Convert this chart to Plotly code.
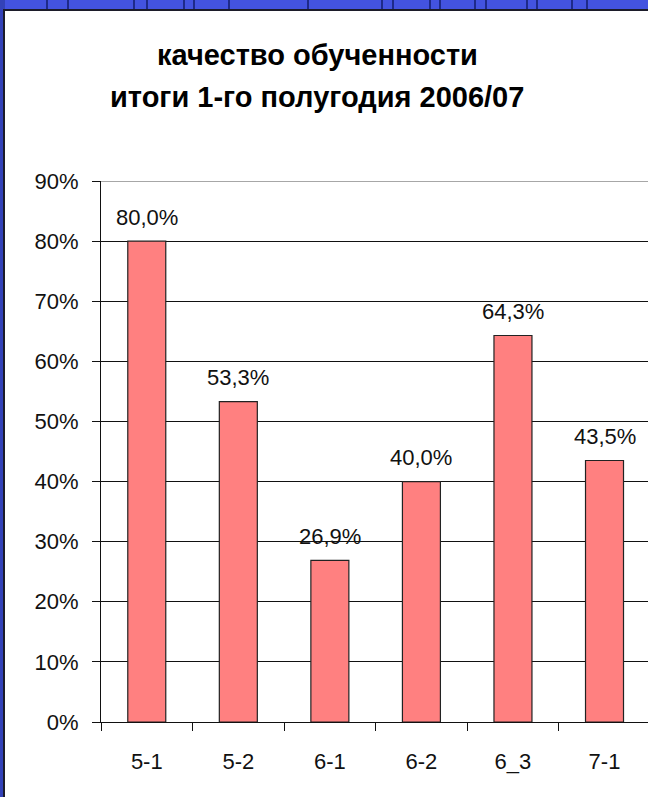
import plotly.graph_objects as go

categories = ["5-1", "5-2", "6-1", "6-2", "6_3", "7-1"]
values = [0.800, 0.533, 0.269, 0.400, 0.643, 0.435]
labels = ["80,0%", "53,3%", "26,9%", "40,0%", "64,3%", "43,5%"]
title_lines = ["качество обученности", "итоги 1-го полугодия 2006/07"]

W, H = 648, 797
L, R, T, B = 101, 0, 181, 75
pw, ph = W - L - R, H - T - B

def px_x(x):
    return (x - L) / pw

def px_y(y):
    return (H - B - y) / ph

font = "Liberation Sans, Arial, sans-serif"

fig = go.Figure()
fig.add_trace(go.Bar(
    x=categories, y=values,
    marker=dict(color="#FF8080", line=dict(color="#222222", width=1.2)),
    width=0.415,
    hoverinfo="skip",
))

for c, v, t in zip(categories, values, labels):
    fig.add_annotation(x=c, y=v, text=t, showarrow=False, yshift=24,
                       yanchor="middle", xanchor="center",
                       font=dict(family=font, size=22, color="#111111"))

fig.add_annotation(xref="paper", yref="paper", x=px_x(317), y=px_y(55),
                   xanchor="center", yanchor="middle",
                   text="<b>" + title_lines[0] + "</b>", showarrow=False,
                   font=dict(family=font, size=29, color="#000000"))
fig.add_annotation(xref="paper", yref="paper", x=px_x(317), y=px_y(97),
                   xanchor="center", yanchor="middle",
                   text="<b>" + title_lines[1] + "</b>", showarrow=False,
                   font=dict(family=font, size=29, color="#000000"))

# decorative background: darker left strip, dark curves in top strip
fig.add_shape(type="rect", xref="paper", yref="paper", layer="below",
              x0=px_x(-5), x1=px_x(5), y0=px_y(H + 20), y1=px_y(-5),
              fillcolor="#3342b8", line=dict(width=0))
for xd in [47, 68, 134, 147, 184, 194, 229, 308, 382, 393, 430, 440, 475, 486, 527, 537, 572, 587]:
    fig.add_shape(type="line", xref="paper", yref="paper", layer="below",
                  x0=px_x(xd), x1=px_x(xd), y0=px_y(-2), y1=px_y(10),
                  line=dict(color="#1e2a8a", width=2))

# white panel
fig.add_shape(type="rect", xref="paper", yref="paper", layer="below",
              x0=px_x(4), x1=px_x(W + 20), y0=px_y(H + 20), y1=px_y(10),
              fillcolor="white", line=dict(color="#1c1c2a", width=2))

# grey top border of plot area
fig.add_shape(type="line", xref="paper", yref="y", layer="above",
              x0=0, x1=1, y0=0.9, y1=0.9,
              line=dict(color="#8a8a8a", width=1.5))

fig.update_layout(
    width=W, height=H,
    margin=dict(l=L, r=R, t=T, b=B),
    paper_bgcolor="#4353e0",
    plot_bgcolor="rgba(0,0,0,0)",
    showlegend=False,
    font=dict(family=font, color="#111111"),
    xaxis=dict(
        range=[-0.5, 5.475], tickson="boundaries", ticks="outside",
        ticklen=8, tickcolor="#111111", tickwidth=1,
        showline=True, linecolor="#111111", linewidth=1,
        showgrid=False, tickfont=dict(size=22), ticklabelstandoff=20,
    ),
    yaxis=dict(
        range=[0, 0.9], dtick=0.1, tickformat=".0%", ticks="outside",
        ticklen=8, tickcolor="#111111", tickwidth=1,
        showline=True, linecolor="#111111", linewidth=1,
        showgrid=True, gridcolor="#111111", gridwidth=1,
        zeroline=False, tickfont=dict(size=22), ticklabelstandoff=9,
    ),
)

fig.write_html("out.html", config={"displayModeBar": False},
               post_script="document.body.style.margin='0px';document.body.style.overflow='hidden';")
